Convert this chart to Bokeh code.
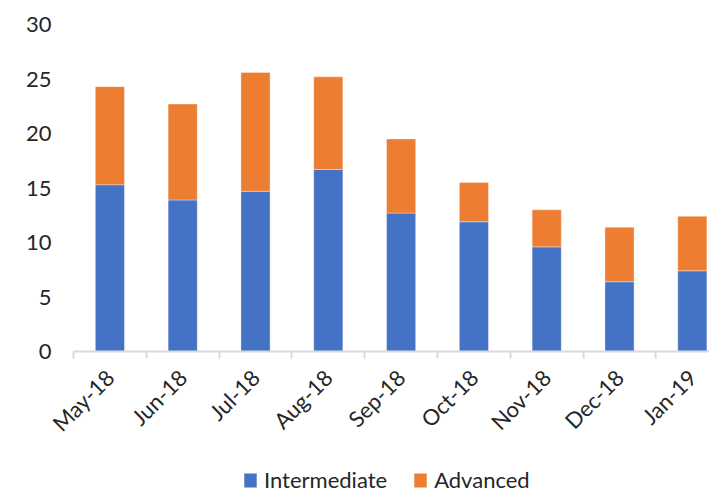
import numpy as np
from bokeh.plotting import figure
from bokeh.layouts import column
from bokeh.models import ColumnDataSource, Range1d, FixedTicker, Legend, LegendItem
from bokeh.embed import file_html
from bokeh.resources import INLINE

months = ["May-18", "Jun-18", "Jul-18", "Aug-18", "Sep-18", "Oct-18", "Nov-18", "Dec-18", "Jan-19"]
intermediate = [15.3, 13.9, 14.7, 16.7, 12.7, 11.9, 9.6, 6.4, 7.4]
advanced = [9.0, 8.8, 10.9, 8.5, 6.8, 3.6, 3.4, 5.0, 5.0]
series = ["Intermediate", "Advanced"]
colors = ["#4472C4", "#ED7D31"]
y_ticks = [0, 5, 10, 15, 20, 25, 30]

x = [i + 0.5 for i in range(len(months))]
src = ColumnDataSource(dict(x=x, Intermediate=intermediate, Advanced=advanced))

FONT = "Lato"
TXT = "#262626"
GRAY = "#D9D9D9"

p = figure(width=709, height=449, output_backend="svg", toolbar_location=None,
           x_range=Range1d(0, 8.736), y_range=Range1d(0, 30),
           min_border_left=73, min_border_right=0, min_border_top=24, min_border_bottom=97)

rs = p.vbar_stack(series, x="x", width=0.4, source=src, fill_color=colors,
                  line_color="white", line_alpha=0.35, line_width=1)

p.xgrid.visible = False
p.ygrid.visible = False
p.outline_line_color = None

xa = p.xaxis[0]
xa.ticker = FixedTicker(ticks=x, minor_ticks=list(range(len(months) + 1)))
xa.major_label_overrides = {xv: m for xv, m in zip(x, months)}
xa.major_label_orientation = np.pi / 4
xa.major_tick_line_color = None
xa.major_tick_out = 0
xa.major_tick_in = 0
xa.minor_tick_line_color = GRAY
xa.minor_tick_line_width = 2
xa.minor_tick_out = 7
xa.minor_tick_in = 0
xa.axis_line_color = GRAY
xa.axis_line_width = 2
xa.major_label_standoff = 15
xa.major_label_text_font = FONT
xa.major_label_text_font_size = "22px"
xa.major_label_text_color = TXT

ya = p.yaxis[0]
ya.ticker = FixedTicker(ticks=y_ticks)
ya.axis_line_color = None
ya.major_tick_line_color = None
ya.minor_tick_line_color = None
ya.major_tick_out = 0
ya.major_label_standoff = 22
ya.major_label_text_font = FONT
ya.major_label_text_font_size = "22px"
ya.major_label_text_color = TXT

# legend strip below the chart
p2 = figure(width=709, height=44, output_backend="svg", toolbar_location=None,
            x_range=Range1d(-10, -9), y_range=Range1d(0, 1),
            x_axis_type=None, y_axis_type=None,
            min_border_left=0, min_border_right=0, min_border_top=0, min_border_bottom=0)
p2.xgrid.visible = False
p2.ygrid.visible = False
p2.outline_line_color = None
rs2 = p2.vbar_stack(series, x="x", width=0.4, source=src, fill_color=colors,
                    line_color="white", line_alpha=0.35, line_width=1)

legend = Legend(items=[LegendItem(label=s, renderers=[r]) for s, r in zip(series, rs2)],
                location=(169, 0), orientation="horizontal",
                glyph_width=16, glyph_height=18, label_standoff=6, spacing=25,
                padding=0, margin=0, border_line_color=None, background_fill_alpha=0,
                label_text_font=FONT, label_text_font_size="22px", label_text_color=TXT)
p2.add_layout(legend)

layout = column(p, p2, spacing=0)
open("out.html", "w").write(file_html(layout, INLINE))
